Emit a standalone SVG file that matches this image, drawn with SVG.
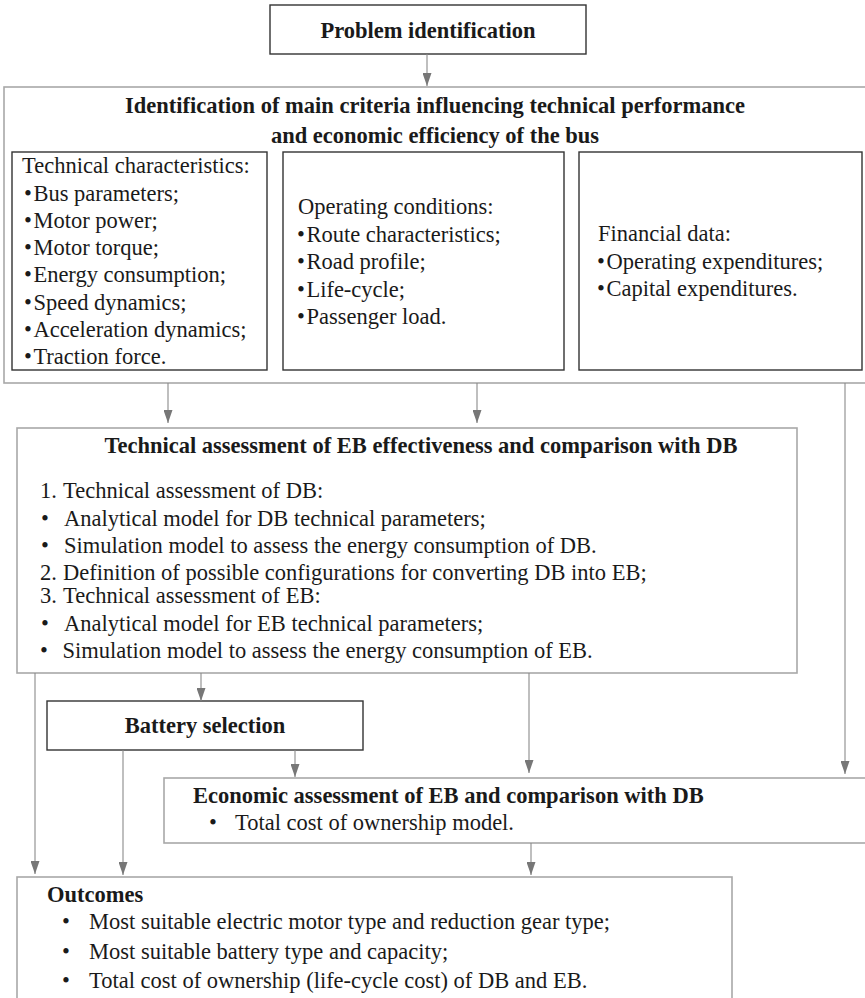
<svg xmlns="http://www.w3.org/2000/svg" width="865" height="998" viewBox="0 0 865 998">
<style>
  text { font-family: "Liberation Serif", "Times New Roman", serif; font-size: 22.5px; fill: #1a1a1a; }
  .b { font-weight: bold; }
  .mid { text-anchor: middle; }
  .outer { fill: #fff; stroke: #a8a8a8; stroke-width: 1.6; }
  .dark { fill: #fff; stroke: #333; stroke-width: 1.4; }
  .conn line { stroke: #8a8a8a; stroke-width: 1.1; }
</style>
<defs>
  <marker id="arr" markerUnits="userSpaceOnUse" markerWidth="9" markerHeight="14" refX="4.5" refY="13" orient="0" viewBox="0 0 9 14">
    <path d="M0,0 L9,0 L4.5,13 z" fill="#777"/>
  </marker>
</defs>
<rect width="865" height="998" fill="#fff"/>

<g id="problem">
  <rect class="dark" x="270" y="5" width="316" height="49"/>
  <text class="b mid" x="428" y="38">Problem identification</text>
</g>

<g id="criteria">
  <rect class="outer" x="4" y="87" width="870" height="296"/>
  <text class="b mid" x="435" y="113">Identification of main criteria influencing technical performance</text>
  <text class="b mid" x="435" y="143">and economic efficiency of the bus</text>
</g>

<g id="technical-characteristics">
  <rect class="dark" x="12" y="152" width="255" height="218"/>
  <text x="22" y="173">Technical characteristics:</text>
  <text x="24" y="200.5">•<tspan dx="1.5">Bus parameters;</tspan></text>
  <text x="24" y="227.8">•<tspan dx="1.5">Motor power;</tspan></text>
  <text x="24" y="255">•<tspan dx="1.5">Motor torque;</tspan></text>
  <text x="24" y="282.3">•<tspan dx="1.5">Energy consumption;</tspan></text>
  <text x="24" y="309.5">•<tspan dx="1.5">Speed dynamics;</tspan></text>
  <text x="24" y="336.8">•<tspan dx="1.5">Acceleration dynamics;</tspan></text>
  <text x="24" y="364">•<tspan dx="1.5">Traction force.</tspan></text>
</g>

<g id="operating-conditions">
  <rect class="dark" x="283" y="152" width="281" height="218"/>
  <text x="298" y="214">Operating conditions:</text>
  <text x="297" y="241.5">•<tspan dx="1.5">Route characteristics;</tspan></text>
  <text x="297" y="269">•<tspan dx="1.5">Road profile;</tspan></text>
  <text x="297" y="296.5">•<tspan dx="1.5">Life-cycle;</tspan></text>
  <text x="297" y="324">•<tspan dx="1.5">Passenger load.</tspan></text>
</g>

<g id="financial-data">
  <rect class="dark" x="579" y="152" width="283" height="218"/>
  <text x="598" y="241">Financial data:</text>
  <text x="597" y="268.5">•<tspan dx="1.5">Operating expenditures;</tspan></text>
  <text x="597" y="296">•<tspan dx="1.5">Capital expenditures.</tspan></text>
</g>

<g id="technical-assessment">
  <rect class="outer" x="17" y="428" width="780" height="245"/>
  <text class="b mid" x="421" y="453">Technical assessment of EB effectiveness and comparison with DB</text>
  <text x="40" y="498">1.<tspan x="63">Technical assessment of DB:</tspan></text>
  <text x="41" y="525.5">•<tspan x="64">Analytical model for DB technical parameters;</tspan></text>
  <text x="41" y="553">•<tspan x="64">Simulation model to assess the energy consumption of DB.</tspan></text>
  <text x="40" y="580">2.<tspan x="63">Definition of possible configurations for converting DB into EB;</tspan></text>
  <text x="40" y="603">3.<tspan x="63">Technical assessment of EB:</tspan></text>
  <text x="41" y="631">•<tspan x="64">Analytical model for EB technical parameters;</tspan></text>
  <text x="40" y="658">•<tspan x="62.5">Simulation model to assess the energy consumption of EB.</tspan></text>
</g>

<g id="battery-selection">
  <rect class="dark" x="47" y="701" width="316" height="49"/>
  <text class="b mid" x="205" y="733">Battery selection</text>
</g>

<g id="economic-assessment">
  <rect class="outer" x="164" y="778" width="710" height="65"/>
  <text class="b" x="193" y="803">Economic assessment of EB and comparison with DB</text>
  <text x="209" y="830">•<tspan x="235">Total cost of ownership model.</tspan></text>
</g>

<g id="outcomes">
  <rect class="outer" x="17" y="877" width="715" height="140"/>
  <text class="b" x="47" y="902">Outcomes</text>
  <text x="62" y="929">•<tspan x="89">Most suitable electric motor type and reduction gear type;</tspan></text>
  <text x="62" y="958.5">•<tspan x="89">Most suitable battery type and capacity;</tspan></text>
  <text x="62" y="988">•<tspan x="89">Total cost of ownership (life-cycle cost) of DB and EB.</tspan></text>
</g>

<g id="connectors" class="conn">
  <line x1="427" y1="54" x2="427" y2="86" marker-end="url(#arr)"/>
  <line x1="168" y1="383" x2="168" y2="423" marker-end="url(#arr)"/>
  <line x1="477" y1="383" x2="477" y2="423" marker-end="url(#arr)"/>
  <line x1="845" y1="383" x2="845" y2="774" marker-end="url(#arr)"/>
  <line x1="201" y1="673" x2="201" y2="701" marker-end="url(#arr)"/>
  <line x1="35" y1="673" x2="35" y2="874" marker-end="url(#arr)"/>
  <line x1="529" y1="673" x2="529" y2="773" marker-end="url(#arr)"/>
  <line x1="123" y1="750" x2="123" y2="875" marker-end="url(#arr)"/>
  <line x1="295" y1="750" x2="295" y2="777" marker-end="url(#arr)"/>
  <line x1="531" y1="843" x2="531" y2="875" marker-end="url(#arr)"/>
</g>
</svg>
